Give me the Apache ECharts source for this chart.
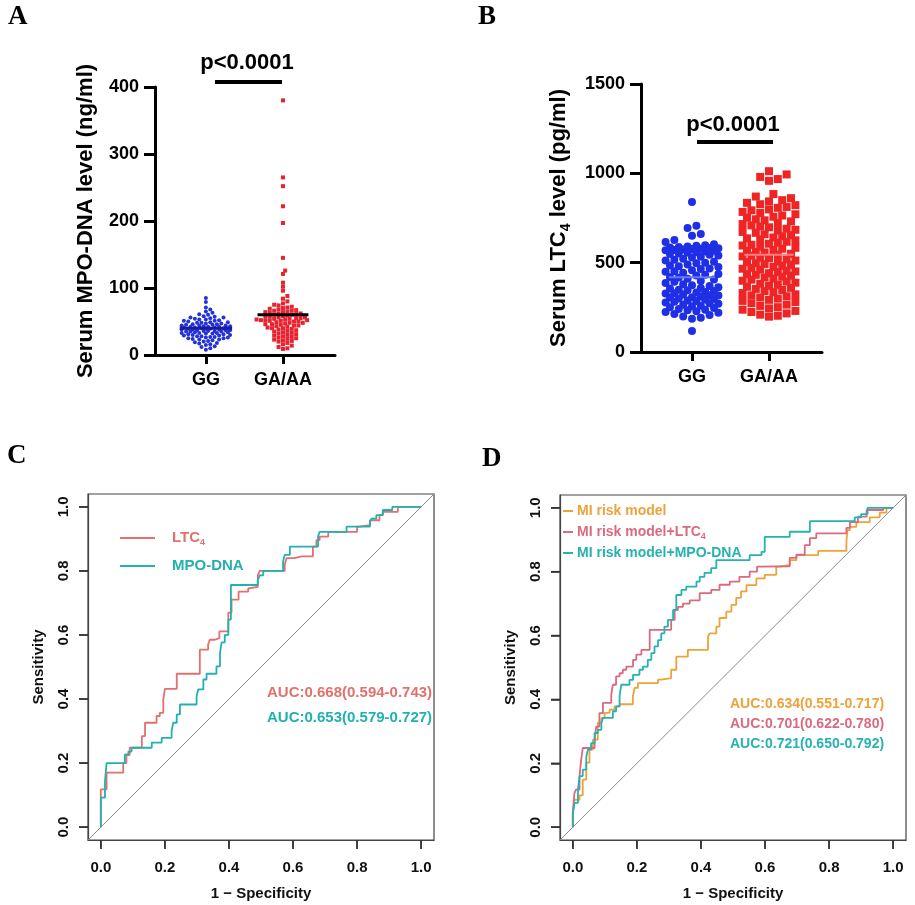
<!DOCTYPE html>
<html><head><meta charset="utf-8">
<script src="https://cdn.jsdelivr.net/npm/echarts@6/dist/echarts.min.js"></script>
<style>html,body{margin:0;padding:0;background:#fff}#c{width:915px;height:905px}</style>
</head><body><div id="c"></div>
<script>
// ---------------- DATA ----------------
const groups = ['GG', 'GA/AA'];
const groupPos = [1, 2];

// Panel A: Serum MPO-DNA (ng/ml)
const mpoGG = [85, 79, 71, 68, 65, 63, 61, 60, 58, 57, 56, 56, 55, 54, 53, 53, 52, 51, 51, 50, 49, 49, 48, 48, 47, 47, 46, 46, 45, 45, 44, 44, 44, 43, 43, 42, 42, 42, 41, 41, 41, 40, 40, 40, 39, 39, 39, 38, 38, 38, 37, 37, 37, 36, 36, 36, 35, 35, 35, 34, 34, 33, 33, 33, 32, 32, 31, 31, 30, 30, 29, 29, 28, 28, 27, 27, 26, 26, 25, 25, 24, 23, 23, 22, 21, 20, 19, 18, 17, 16, 15, 13, 12, 10, 8];
const mpoGA = [380, 265, 252, 222, 197, 145, 126, 121, 108, 102, 96, 88, 84, 80, 77, 75, 74, 72, 71, 70, 69, 68, 67, 66, 66, 65, 64, 64, 63, 62, 62, 61, 60, 60, 59, 58, 58, 57, 56, 56, 55, 55, 54, 54, 53, 53, 52, 52, 52, 51, 51, 50, 50, 49, 48, 48, 47, 46, 46, 45, 44, 44, 43, 42, 41, 40, 40, 39, 38, 37, 36, 35, 34, 33, 32, 31, 30, 29, 28, 27, 26, 25, 24, 23, 22, 21, 20, 18, 16, 14, 12, 10, 9];
const mpoMeans = [40, 60];

// Panel B: Serum LTC4 (pg/ml)
const ltcGG = [840, 706, 694, 661, 650, 627, 615, 603, 598, 594, 591, 587, 585, 582, 580, 578, 576, 574, 571, 569, 566, 563, 558, 555, 551, 548, 544, 540, 533, 529, 522, 516, 512, 505, 500, 497, 490, 484, 480, 476, 468, 465, 458, 452, 449, 444, 437, 433, 428, 420, 417, 410, 406, 397, 393, 386, 379, 373, 370, 363, 358, 355, 349, 346, 341, 336, 333, 329, 327, 322, 318, 316, 311, 307, 305, 300, 296, 292, 288, 286, 281, 277, 273, 270, 264, 259, 256, 250, 246, 241, 237, 233, 228, 224, 219, 212, 207, 198, 191, 186, 118];
const ltcGA = [1012, 994, 980, 968, 958, 884, 870, 861, 850, 843, 835, 827, 822, 812, 807, 798, 793, 784, 778, 771, 764, 757, 752, 743, 737, 731, 722, 716, 709, 703, 698, 690, 684, 680, 672, 667, 659, 654, 648, 641, 636, 630, 625, 617, 612, 606, 600, 596, 589, 583, 578, 571, 566, 560, 557, 550, 546, 539, 535, 528, 524, 518, 512, 507, 503, 497, 492, 488, 482, 476, 471, 466, 461, 455, 451, 447, 441, 436, 432, 427, 421, 417, 411, 405, 399, 394, 388, 382, 376, 371, 365, 359, 353, 347, 341, 335, 330, 323, 317, 312, 305, 299, 292, 286, 280, 273, 265, 258, 251, 244, 237, 230, 224, 216, 209, 203, 198];
const ltcMeans = [418, 545];

// Panel C / D ROC curves: [1 - specificity, sensitivity]
const rocTicks = [0, 0.2, 0.4, 0.6, 0.8, 1.0];
const rocC_LTC4 = [[0,0],[0,0.045],[0.018,0.118],[0.029,0.17],[0.07,0.17],[0.08,0.2],[0.09,0.225],[0.107,0.248],[0.128,0.248],[0.138,0.284],[0.148,0.326],[0.174,0.326],[0.184,0.347],[0.195,0.357],[0.2,0.398],[0.21,0.432],[0.237,0.432],[0.252,0.479],[0.309,0.479],[0.315,0.554],[0.335,0.554],[0.34,0.57],[0.356,0.585],[0.37,0.59],[0.382,0.611],[0.398,0.611],[0.408,0.67],[0.419,0.71],[0.43,0.71],[0.435,0.735],[0.46,0.735],[0.465,0.745],[0.49,0.75],[0.496,0.786],[0.512,0.8],[0.574,0.8],[0.58,0.82],[0.605,0.84],[0.626,0.845],[0.662,0.845],[0.673,0.876],[0.683,0.896],[0.71,0.907],[0.735,0.922],[0.8,0.922],[0.808,0.938],[0.84,0.943],[0.87,0.958],[0.88,0.974],[0.89,0.984],[0.927,0.984],[0.932,1],[1,1]];
const rocC_MPO = [[0,0],[0,0.092],[0.013,0.092],[0.018,0.143],[0.026,0.2],[0.075,0.2],[0.086,0.227],[0.096,0.236],[0.107,0.248],[0.159,0.248],[0.164,0.264],[0.19,0.264],[0.195,0.279],[0.221,0.279],[0.226,0.3],[0.237,0.326],[0.247,0.352],[0.263,0.383],[0.299,0.383],[0.304,0.409],[0.32,0.43],[0.33,0.461],[0.34,0.479],[0.361,0.479],[0.372,0.502],[0.377,0.543],[0.387,0.577],[0.398,0.6],[0.406,0.648],[0.413,0.756],[0.49,0.756],[0.496,0.772],[0.507,0.786],[0.517,0.8],[0.569,0.8],[0.574,0.83],[0.59,0.85],[0.6,0.876],[0.678,0.876],[0.683,0.907],[0.69,0.922],[0.767,0.922],[0.772,0.938],[0.84,0.938],[0.845,0.953],[0.86,0.963],[0.88,0.974],[0.91,0.99],[0.917,1],[1,1]];
const rocD_MI = [[0,0],[0.005,0.046],[0.021,0.086],[0.031,0.1],[0.042,0.149],[0.052,0.202],[0.0625,0.243],[0.078,0.274],[0.089,0.327],[0.099,0.342],[0.115,0.358],[0.13,0.368],[0.146,0.378],[0.1875,0.385],[0.193,0.41],[0.203,0.436],[0.214,0.451],[0.266,0.451],[0.276,0.462],[0.307,0.467],[0.323,0.493],[0.323,0.524],[0.359,0.534],[0.365,0.555],[0.422,0.555],[0.427,0.597],[0.448,0.607],[0.458,0.628],[0.479,0.655],[0.495,0.675],[0.51,0.696],[0.525,0.718],[0.542,0.738],[0.573,0.758],[0.599,0.779],[0.635,0.79],[0.646,0.816],[0.677,0.821],[0.698,0.836],[0.766,0.852],[0.854,0.865],[0.857,0.894],[0.865,0.93],[0.885,0.94],[0.927,0.955],[0.958,0.97],[0.979,0.985],[1,1]];
const rocD_LTC4 = [[0,0],[0.005,0.045],[0.01,0.107],[0.021,0.118],[0.026,0.16],[0.031,0.21],[0.036,0.248],[0.068,0.248],[0.073,0.274],[0.083,0.315],[0.094,0.357],[0.104,0.389],[0.12,0.389],[0.125,0.415],[0.135,0.446],[0.146,0.472],[0.156,0.482],[0.167,0.493],[0.188,0.503],[0.198,0.524],[0.214,0.54],[0.24,0.555],[0.26,0.618],[0.307,0.618],[0.318,0.649],[0.328,0.68],[0.344,0.69],[0.365,0.7],[0.396,0.71],[0.432,0.733],[0.458,0.743],[0.49,0.759],[0.52,0.769],[0.552,0.784],[0.575,0.8],[0.589,0.816],[0.677,0.817],[0.698,0.843],[0.724,0.853],[0.74,0.883],[0.76,0.905],[0.78,0.92],[0.854,0.92],[0.865,0.937],[0.89,0.955],[0.917,0.972],[0.969,0.993],[0.99,1],[1,1]];
const rocD_MPO = [[0,0],[0.005,0.04],[0.016,0.076],[0.021,0.118],[0.031,0.16],[0.042,0.18],[0.047,0.22],[0.057,0.243],[0.068,0.263],[0.078,0.295],[0.089,0.305],[0.094,0.326],[0.104,0.342],[0.125,0.342],[0.135,0.363],[0.146,0.378],[0.151,0.41],[0.156,0.446],[0.177,0.446],[0.188,0.461],[0.208,0.477],[0.219,0.493],[0.234,0.503],[0.245,0.524],[0.255,0.545],[0.266,0.566],[0.276,0.586],[0.286,0.607],[0.297,0.628],[0.313,0.649],[0.323,0.68],[0.339,0.727],[0.354,0.743],[0.386,0.753],[0.396,0.769],[0.411,0.784],[0.432,0.796],[0.448,0.811],[0.458,0.836],[0.552,0.836],[0.557,0.852],[0.589,0.852],[0.599,0.862],[0.62,0.909],[0.677,0.909],[0.682,0.925],[0.74,0.925],[0.745,0.958],[0.88,0.958],[0.9,0.97],[0.92,0.98],[0.948,1],[1,1]];
const chance = [[-0.04,-0.04],[1.04,1.04]];

const aucC = ['AUC:0.668(0.594-0.743)', 'AUC:0.653(0.579-0.727)'];
const aucD = ['AUC:0.634(0.551-0.717)', 'AUC:0.701(0.622-0.780)', 'AUC:0.721(0.650-0.792)'];

// ---------------- STYLE ----------------
const FF = '"Liberation Sans", Arial, sans-serif';
const SERIF = '"Liberation Serif", "Times New Roman", serif';
const cRed = '#e0716d', cTeal = '#22b0b0';
const dOrange = '#eda33a', dPink = '#da6a80', dTeal = '#26b2b2';
const ROC_MIN = -0.04, ROC_MAX = 1.04;

// deterministic beeswarm layout (pixel-based)
function swarm(values, center, pxPerX, pxPerY, diam, maxHalf) {
  const order = values.map((v, i) => i).sort((a, b) => values[a] - values[b]);
  const placed = [];
  const out = new Array(values.length);
  const step = diam * 0.55;
  for (const i of order) {
    const py = values[i] * pxPerY;
    let best = 0, bestScore = -1, done = false;
    for (let k = 0; k * step <= maxHalf && !done; k++) {
      const cands = k === 0 ? [0] : [k * step, -k * step];
      for (const px of cands) {
        let minD = Infinity;
        for (const p of placed) {
          if (Math.abs(p.py - py) < diam) {
            const d = Math.hypot(p.px - px, p.py - py);
            if (d < minD) minD = d;
          }
        }
        if (minD >= diam) { best = px; done = true; break; }
        if (minD > bestScore) { bestScore = minD; best = px; }
      }
    }
    placed.push({ px: best, py });
    out[i] = [center + best / pxPerX, values[i]];
  }
  return out;
}

const aX = { min: 0.34, max: 2.675 }, bX = { min: 0.338, max: 2.688 };
const aPxX = 180 / (aX.max - aX.min), aPxY = 268 / 400;
const bPxX = 181 / (bX.max - bX.min), bPxY = 268 / 1500;

function catXAxis(gi, r) {
  return {
    gridIndex: gi, type: 'value', min: r.min, max: r.max,
    axisLine: { show: true, onZero: false, lineStyle: { color: '#000', width: 3 } },
    axisTick: { show: true, customValues: groupPos, length: 9, lineStyle: { color: '#000', width: 3 } },
    axisLabel: { customValues: groupPos, formatter: v => groups[Math.round(v) - 1], fontSize: 18, fontWeight: 'bold', color: '#000', fontFamily: FF, margin: 16 },
    splitLine: { show: false }
  };
}
function valYAxis(gi, max, interval, name, nameGap, rich) {
  const o = {
    gridIndex: gi, type: 'value', min: 0, max: max, interval: interval,
    axisLine: { show: true, onZero: false, lineStyle: { color: '#000', width: 3 } },
    axisTick: { show: true, length: 11, lineStyle: { color: '#000', width: 3 } },
    axisLabel: { formatter: v => String(v), fontSize: 18, fontWeight: 'bold', color: '#000', fontFamily: FF, margin: 16 },
    splitLine: { show: false },
    name: name, nameLocation: 'middle', nameGap: nameGap,
    nameTextStyle: { fontSize: 22, fontWeight: 'bold', color: '#000', fontFamily: FF }
  };
  if (rich) o.nameTextStyle.rich = rich;
  return o;
}
function rocXAxis(gi) {
  return {
    gridIndex: gi, type: 'value', min: ROC_MIN, max: ROC_MAX, position: 'bottom',
    axisLine: { show: true, onZero: false, lineStyle: { color: '#444', width: 1.2 } },
    axisTick: { show: true, customValues: rocTicks, length: 9, lineStyle: { color: '#333', width: 1.5 } },
    axisLabel: { customValues: rocTicks, formatter: v => v.toFixed(1), fontSize: 15, fontWeight: 'bold', color: '#111', fontFamily: FF, margin: 20 },
    splitLine: { show: false },
    name: '1 \u2212 Specificity', nameLocation: 'middle', nameGap: 46,
    nameTextStyle: { fontSize: 15, fontWeight: 'bold', color: '#111', fontFamily: FF }
  };
}
function rocYAxis(gi) {
  return {
    gridIndex: gi, type: 'value', min: ROC_MIN, max: ROC_MAX, position: 'left',
    axisLine: { show: true, onZero: false, lineStyle: { color: '#444', width: 1.2 } },
    axisTick: { show: true, customValues: rocTicks, length: 9, lineStyle: { color: '#333', width: 1.5 } },
    axisLabel: { customValues: rocTicks, formatter: v => v.toFixed(1), rotate: 90, fontSize: 15, fontWeight: 'bold', color: '#111', fontFamily: FF, margin: 17 },
    splitLine: { show: false },
    name: 'Sensitivity', nameLocation: 'middle', nameGap: 42,
    nameTextStyle: { fontSize: 15, fontWeight: 'bold', color: '#111', fontFamily: FF }
  };
}
function scatter(gi, data, color, symbol, size) {
  return { type: 'scatter', xAxisIndex: gi, yAxisIndex: gi, data: data, symbol: symbol, symbolSize: size,
    itemStyle: { color: color, opacity: 1 }, silent: true, z: 2 };
}
function meanLine(gi, pos, mean, half, color, width) {
  return { type: 'line', xAxisIndex: gi, yAxisIndex: gi, data: [[pos - half, mean], [pos + half, mean]],
    showSymbol: false, symbol: 'none', lineStyle: { color: color, width: width }, silent: true, z: 5 };
}
function rocLine(gi, data, color, width) {
  return { type: 'line', xAxisIndex: gi, yAxisIndex: gi, data: data, step: 'start', showSymbol: false, symbol: 'none',
    lineStyle: { color: color, width: width || 1.8 }, silent: true, z: 3 };
}
function chanceLine(gi) {
  return { type: 'line', xAxisIndex: gi, yAxisIndex: gi, data: chance, showSymbol: false, symbol: 'none',
    lineStyle: { color: '#8c8c8c', width: 1 }, silent: true, z: 1 };
}

const richSub = {
  a: { fontSize: 22, fontWeight: 'bold', color: '#000', fontFamily: FF, lineHeight: 28 },
  s: { fontSize: 14, fontWeight: 'bold', color: '#000', fontFamily: FF, lineHeight: 28, verticalAlign: 'bottom', padding: [10, 0, 0, 0] }
};

function txt(x, y, text, opts) {
  return { type: 'text', x: x, y: y, silent: true,
    style: Object.assign({ text: text, fontFamily: FF, fontWeight: 'bold', fontSize: 15, fill: '#000', align: 'left', verticalAlign: 'middle' }, opts || {}) };
}
function subTxt(x, y, parts, color, size, subSize) {
  return { type: 'text', x: x, y: y, silent: true,
    style: { text: parts, fontFamily: FF, fontWeight: 'bold', fontSize: size, fill: color, align: 'left', verticalAlign: 'middle',
      rich: { n: { fontSize: size, fontWeight: 'bold', fill: color, fontFamily: FF, lineHeight: size + 4 },
              s: { fontSize: subSize, fontWeight: 'bold', fill: color, fontFamily: FF, lineHeight: size + 4, verticalAlign: 'bottom', padding: [Math.round(size * 0.35), 0, 0, 0] } } } };
}
function seg(x1, y1, x2, y2, color, w) {
  return { type: 'line', silent: true, z: 10, shape: { x1: x1, y1: y1, x2: x2, y2: y2 }, style: { stroke: color, lineWidth: w } };
}

const grids = [
  { left: 155, top: 87, width: 180, height: 268 },
  { left: 641, top: 84, width: 181, height: 268 },
  { left: 88, top: 494, width: 346, height: 346, show: true, borderColor: '#444', borderWidth: 1.2, backgroundColor: 'transparent' },
  { left: 560, top: 495, width: 346, height: 345, show: true, borderColor: '#444', borderWidth: 1.2, backgroundColor: 'transparent' }
];
const gridGeom = grids.map(g => ({ left: g.left, top: g.top, width: g.width, height: g.height }));

const graphics = [
  txt(8, 17, 'A', { fontFamily: SERIF, fontSize: 27, fill: '#000' }),
  txt(478, 17, 'B', { fontFamily: SERIF, fontSize: 27, fill: '#000' }),
  txt(7, 456, 'C', { fontFamily: SERIF, fontSize: 27, fill: '#000' }),
  txt(482, 459, 'D', { fontFamily: SERIF, fontSize: 27, fill: '#000' }),
  txt(247, 63, 'p<0.0001', { fontSize: 22, align: 'center' }),
  seg(215, 82, 282, 82, '#000', 4),
  txt(733, 125, 'p<0.0001', { fontSize: 22, align: 'center' }),
  seg(697, 142, 773, 142, '#000', 4),
  seg(120, 538, 155, 538, cRed, 2),
  seg(120, 566, 155, 566, cTeal, 2),
  subTxt(172, 538, '{n|LTC}{s|4}', cRed, 15, 9),
  txt(172, 566, 'MPO-DNA', { fill: cTeal, fontSize: 15 }),
  txt(267, 693, aucC[0], { fill: cRed, fontSize: 15 }),
  txt(267, 718, aucC[1], { fill: cTeal, fontSize: 15 }),
  seg(563, 511, 573, 511, dOrange, 2),
  seg(563, 532, 573, 532, dPink, 2),
  seg(563, 553, 573, 553, dTeal, 2),
  txt(577, 511, 'MI risk model', { fill: dOrange, fontSize: 14 }),
  subTxt(577, 532, '{n|MI risk model+LTC}{s|4}', dPink, 14, 9),
  txt(577, 553, 'MI risk model+MPO-DNA', { fill: dTeal, fontSize: 14 }),
  txt(730, 704, aucD[0], { fill: dOrange, fontSize: 14 }),
  txt(730, 724, aucD[1], { fill: dPink, fontSize: 14 }),
  txt(730, 744, aucD[2], { fill: dTeal, fontSize: 14 })
];

// ROC axis ticks (outward) drawn along the box edges at the tick values
const tickLen = 9;
[2, 3].forEach(gi => {
  const g = gridGeom[gi];
  const bottom = g.top + g.height, left = g.left;
  rocTicks.forEach(v => {
    const px = g.left + (v - ROC_MIN) / (ROC_MAX - ROC_MIN) * g.width;
    const py = bottom - (v - ROC_MIN) / (ROC_MAX - ROC_MIN) * g.height;
    graphics.push(seg(px, bottom, px, bottom + tickLen, '#333', 1.5));
    graphics.push(seg(left, py, left - tickLen, py, '#333', 1.5));
  });
});

const option = {
  animation: false,
  backgroundColor: '#ffffff',
  grid: grids,
  xAxis: [catXAxis(0, aX), catXAxis(1, bX), rocXAxis(2), rocXAxis(3)],
  yAxis: [
    valYAxis(0, 400, 100, 'Serum MPO-DNA level (ng/ml)', 58),
    valYAxis(1, 1500, 500, '{a|Serum LTC}{s|4}{a| level (pg/ml)}', 68, richSub),
    rocYAxis(2), rocYAxis(3)
  ],
  series: [
    scatter(0, swarm(mpoGG, groupPos[0], aPxX, aPxY, 4, 26), '#2232d6', 'circle', 4),
    scatter(0, swarm(mpoGA, groupPos[1], aPxX, aPxY, 4, 27), '#e8222e', 'rect', 4),
    meanLine(0, groupPos[0], mpoMeans[0], 0.34, '#1a1a9a', 3),
    meanLine(0, groupPos[1], mpoMeans[1], 0.33, '#000000', 3),
    scatter(1, swarm(ltcGG, groupPos[0], bPxX, bPxY, 8, 27), '#1f2fe6', 'circle', 8),
    scatter(1, swarm(ltcGA, groupPos[1], bPxX, bPxY, 8, 29), '#ef2424', 'rect', 8),
    meanLine(1, groupPos[0], ltcMeans[0], 0.3, '#6a78ff', 2),
    meanLine(1, groupPos[1], ltcMeans[1], 0.32, '#ff8080', 2),
    chanceLine(2),
    rocLine(2, rocC_LTC4, cRed), rocLine(2, rocC_MPO, cTeal),
    chanceLine(3),
    rocLine(3, rocD_MI, dOrange), rocLine(3, rocD_LTC4, dPink), rocLine(3, rocD_MPO, dTeal)
  ],
  graphic: { elements: graphics }
};

const chart = echarts.init(document.getElementById('c'), null, { renderer: 'canvas' });
chart.setOption(option);
</script>
</body></html>
